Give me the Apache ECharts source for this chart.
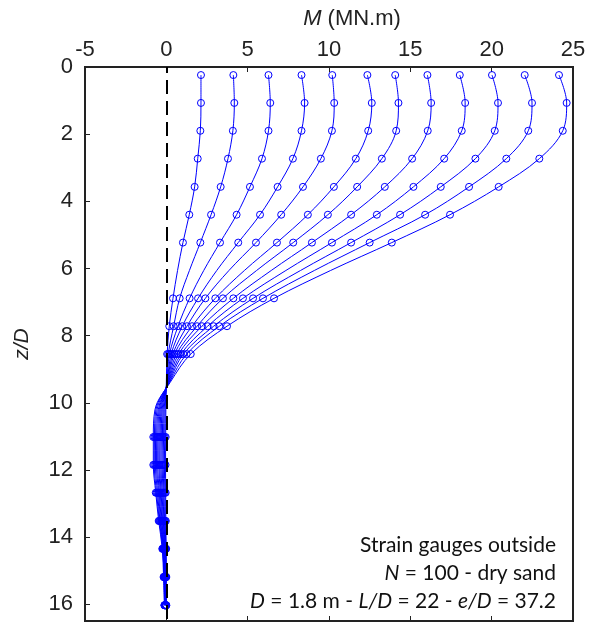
<!DOCTYPE html>
<html><head><meta charset="utf-8">
<script src="https://cdn.jsdelivr.net/npm/echarts@6/dist/echarts.min.js"></script>
<style>html,body{margin:0;padding:0;background:#fff}#c{width:600px;height:623px}</style>
</head><body><div id="c"></div>
<script>
// depth z/D of each reading (gauge = 1 where a strain gauge marker is drawn)
const depth = [0.24, 1.07, 1.90, 2.73, 3.57, 4.40, 5.23, 6.06, 6.89, 7.72, 8.55, 9.39, 10.21, 11.02, 11.85, 12.68, 13.52, 14.35, 15.19, 16.03];
const gauge = [1,1,1,1,1,1,1,0,1,1,1,0,0,1,1,1,1,1,1,1];
// bending moment M (MN.m) for each load cycle curve
const M1  = [2.13, 2.13, 2.09, 1.93, 1.74, 1.41, 1.02, 0.69, 0.41, 0.18, 0.05, 0.00, -0.03, -0.04, -0.05, -0.04, -0.03, -0.01, 0.00, 0.00];
const M2  = [4.12, 4.18, 4.09, 3.79, 3.34, 2.75, 2.09, 1.42, 0.82, 0.45, 0.12, 0.02, -0.08, -0.10, -0.12, -0.09, -0.07, -0.03, -0.02, -0.01];
const M3  = [6.28, 6.39, 6.28, 5.88, 5.14, 4.32, 3.30, 2.30, 1.43, 0.72, 0.20, 0.03, -0.14, -0.17, -0.19, -0.15, -0.11, -0.05, -0.03, -0.02];
const M4  = [8.31, 8.50, 8.31, 7.78, 6.84, 5.76, 4.42, 3.10, 1.95, 0.98, 0.30, 0.05, -0.20, -0.24, -0.26, -0.20, -0.15, -0.07, -0.05, -0.03];
const M5  = [10.20, 10.32, 10.18, 9.50, 8.40, 7.06, 5.51, 3.85, 2.40, 1.27, 0.40, 0.06, -0.26, -0.31, -0.33, -0.26, -0.19, -0.09, -0.06, -0.04];
const M6  = [12.36, 12.63, 12.41, 11.65, 10.30, 8.70, 6.80, 4.80, 3.01, 1.58, 0.50, 0.08, -0.32, -0.38, -0.40, -0.32, -0.23, -0.11, -0.08, -0.05];
const M7  = [14.07, 14.27, 14.13, 13.25, 11.73, 9.93, 7.80, 5.55, 3.48, 1.89, 0.62, 0.10, -0.38, -0.45, -0.46, -0.37, -0.27, -0.14, -0.09, -0.06];
const M8  = [16.05, 16.28, 16.07, 15.11, 13.43, 11.36, 8.95, 6.45, 4.12, 2.19, 0.75, 0.12, -0.44, -0.52, -0.53, -0.43, -0.31, -0.16, -0.11, -0.07];
const M9  = [18.04, 18.37, 18.16, 17.08, 15.19, 12.94, 10.18, 7.35, 4.71, 2.54, 0.90, 0.14, -0.50, -0.59, -0.60, -0.48, -0.35, -0.18, -0.12, -0.08];
const M10 = [20.02, 20.39, 20.19, 19.00, 16.87, 14.37, 11.36, 8.25, 5.33, 2.91, 1.05, 0.17, -0.57, -0.66, -0.67, -0.54, -0.39, -0.20, -0.14, -0.10];
const M11 = [22.03, 22.48, 22.25, 20.90, 18.61, 15.91, 12.50, 9.10, 5.94, 3.26, 1.25, 0.20, -0.64, -0.73, -0.74, -0.60, -0.43, -0.22, -0.15, -0.11];
const M12 = [24.14, 24.61, 24.37, 22.93, 20.43, 17.44, 13.86, 10.10, 6.62, 3.73, 1.50, 0.24, -0.70, -0.80, -0.80, -0.65, -0.47, -0.25, -0.17, -0.12];
const curves = [M1, M2, M3, M4, M5, M6, M7, M8, M9, M10, M11, M12];

const xRange = [-5, 25];
const yRange = [0, 16.5];

const FONT = 'Liberation Sans';
const BLUE = '#0000ff';
const AX = '#222';

const series = curves.map((M, ci) => ({
  type: 'line',
  xAxisIndex: 0, yAxisIndex: 0,
  smooth: 0.35,
  symbol: 'circle',
  symbolSize: 7,
  lineStyle: { color: BLUE, width: 1 },
  itemStyle: { color: 'rgba(0,0,0,0)', borderColor: BLUE, borderWidth: 1 },
  emphasis: { disabled: true },
  data: M.map((m, i) => gauge[i] ? { value: [m, depth[i]] } : { value: [m, depth[i]], symbol: 'none' }),
  z: 2
}));
series.push({
  type: 'line', data: [], z: 5,
  markLine: {
    silent: true, symbol: 'none', label: { show: false },
    lineStyle: { color: '#000', width: 2, type: [14, 7], dashOffset: 8 },
    data: [{ xAxis: 0 }]
  }
});

const chart = echarts.init(document.getElementById('c'), null, { renderer: 'canvas' });
chart.setOption({
  animation: false,
  backgroundColor: '#fff',
  grid: { left: 85, right: 27, top: 67, bottom: 2, containLabel: false,
    show: true, borderColor: AX, borderWidth: 2, backgroundColor: 'rgba(0,0,0,0)' },
  xAxis: [{
    type: 'value', position: 'top', min: xRange[0], max: xRange[1], interval: 5,
    name: '{i|M} (MN.m)', nameLocation: 'middle', nameGap: 37,
    nameTextStyle: { color: AX, fontFamily: FONT, fontSize: 22, padding: [0, 0, 0, 46],
      rich: { i: { fontStyle: 'italic', fontFamily: FONT, fontSize: 22, color: AX } } },
    axisLine: { show: true, onZero: false, lineStyle: { color: AX, width: 2 } },
    axisTick: { show: true, inside: true, length: 5, lineStyle: { color: AX, width: 1 } },
    axisLabel: { color: AX, fontFamily: FONT, fontSize: 22, margin: 6 },
    splitLine: { show: false }
  }, {
    type: 'value', position: 'bottom', min: xRange[0], max: xRange[1], interval: 5,
    axisLine: { show: true, onZero: false, lineStyle: { color: AX, width: 2 } },
    axisTick: { show: true, inside: true, length: 5, lineStyle: { color: AX, width: 1 } },
    axisLabel: { show: false }, splitLine: { show: false }
  }],
  yAxis: [{
    type: 'value', inverse: true, min: yRange[0], max: yRange[1], interval: 2,
    name: 'z/D', nameLocation: 'middle', nameGap: 52, nameRotate: 90,
    nameTextStyle: { color: AX, fontFamily: FONT, fontSize: 21, fontStyle: 'italic' },
    axisLine: { show: true, onZero: false, lineStyle: { color: AX, width: 2 } },
    axisTick: { show: true, inside: true, length: 5, lineStyle: { color: AX, width: 1 } },
    axisLabel: { color: AX, fontFamily: FONT, fontSize: 22, margin: 12, showMaxLabel: false,
      formatter: v => (v % 2 === 0 ? String(v) : '') },
    splitLine: { show: false }
  }, {
    type: 'value', position: 'right', inverse: true, min: yRange[0], max: yRange[1], interval: 2,
    axisLine: { show: true, onZero: false, lineStyle: { color: AX, width: 2 } },
    axisTick: { show: false }, axisLabel: { show: false }, splitLine: { show: false }
  }],
  graphic: [{
    type: 'text', x: 556, y: 531, z: 10,
    style: {
      text: '{n|Strain gauges outside}\n{i|N}{n| = 100 - dry sand}\n{i|D}{n| = 1.8 m - }{i|L/D}{n| = 22 - }{i|e/D}{n| = 37.2}',
      align: 'right', verticalAlign: 'top',
      rich: {
        n: { fontFamily: 'Lato', fontSize: 21, fill: '#111', lineHeight: 28 },
        i: { fontFamily: 'Lato', fontSize: 21, fill: '#111', lineHeight: 28, fontStyle: 'italic' }
      }
    }
  }],
  series: series
});
</script></body></html>
